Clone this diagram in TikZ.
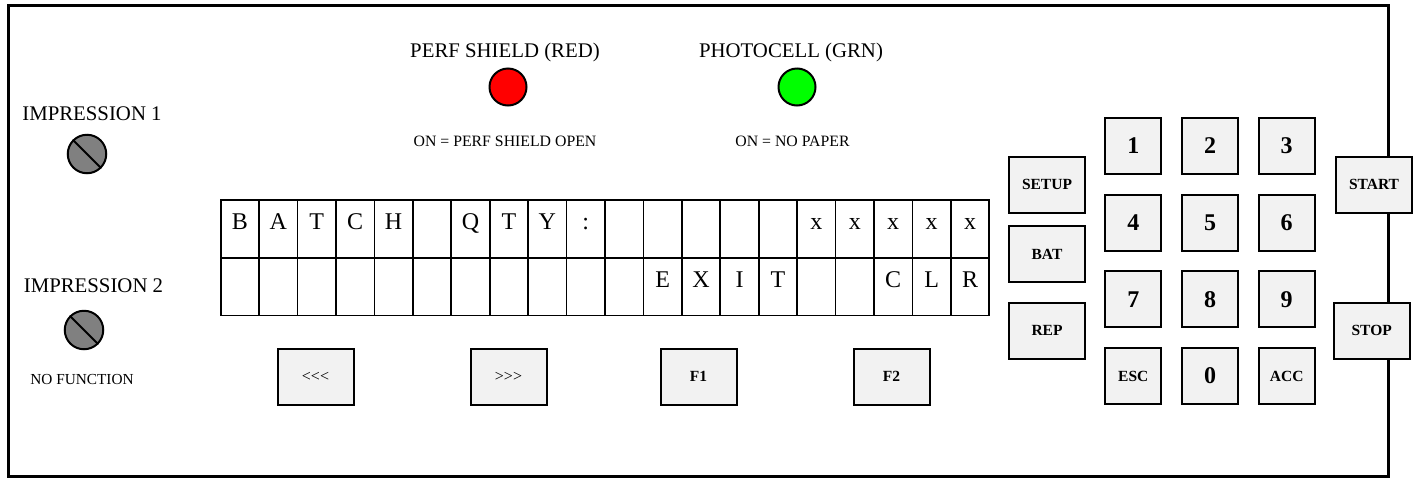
\documentclass[tikz,border=0pt]{standalone}
\usepackage{fontspec}
\setmainfont{Liberation Serif}
\usetikzlibrary{calc}
\definecolor{keyfill}{HTML}{F2F2F2}
\definecolor{knobgray}{HTML}{808080}
\definecolor{ledred}{HTML}{FF0000}
\definecolor{ledgreen}{HTML}{00FF00}
\begin{document}
\begin{tikzpicture}[x=1pt,y=-1pt,
  keybox/.style={draw=black, line width=2pt, fill=keyfill, minimum width=76pt, minimum height=56pt, inner sep=0pt, outer sep=0pt, font=\fontsize{15.5}{18}\selectfont\bfseries},
  numkey/.style={keybox, minimum width=56pt, minimum height=56pt},
  digit/.style={font=\fontsize{24}{28}\selectfont\bfseries},
  plainlbl/.style={font=\fontsize{16}{19}\selectfont},
  biglbl/.style={font=\fontsize{20.8}{24}\selectfont, anchor=base, inner sep=0pt},
  smalllbl/.style={font=\fontsize{15.8}{19}\selectfont, anchor=base, inner sep=0pt},
  lcdcell/.style={draw=black, line width=1.8pt, minimum width=38.43pt, minimum height=57.7pt, inner sep=0pt, outer sep=0pt},
  lcdtxt/.style={font=\fontsize{24}{28}\selectfont, anchor=base, inner sep=0pt},
  knob/.style={circle, draw=black, line width=2pt, fill=knobgray, minimum size=38.5pt, inner sep=0pt},
  led/.style={circle, draw=black, line width=2pt, minimum size=37pt, inner sep=0pt}
]
\useasboundingbox (0,0) rectangle (1418,480);
% outer frame
\draw[line width=3pt] (8.5,5) rectangle (1388,476);

% knobs
\node[biglbl] (imp1) at (92,120.7) {IMPRESSION 1};
\node[knob] (k1) at (87,154) {};
\draw[line width=2pt] (k1.north west) -- (k1.south east);
\node[biglbl] (imp2) at (93.5,292.7) {IMPRESSION 2};
\node[knob] (k2) at (84,330) {};
\draw[line width=2pt] (k2.north west) -- (k2.south east);
\node[font=\fontsize{15.3}{18}\selectfont, anchor=base, inner sep=0pt] (nofn) at (82,384) {NO FUNCTION};

% LEDs
\node[biglbl] (perf) at (505,57) {PERF SHIELD (RED)};
\node[led, fill=ledred] (redled) at (508,87) {};
\node[smalllbl] (perfon) at (505,146) {ON = PERF SHIELD OPEN};
\node[biglbl] (photo) at (791,57) {PHOTOCELL (GRN)};
\node[led, fill=ledgreen] (grnled) at (797,87) {};
\node[smalllbl] (photoon) at (792.5,146) {ON = NO PAPER};

% LCD grid
\foreach \c [count=\i] in {B,A,T,C,H,{},Q,T,Y,:,{},{},{},{},{},x,x,x,x,x}{
  \node[lcdcell] (ra\i) at ({220.7+(\i-0.5)*38.43},228.85) {};
  \node[lcdtxt] at ($(ra\i.north)+(0,29.6)$) {\c};
}
\foreach \c [count=\i] in {{},{},{},{},{},{},{},{},{},{},{},E,X,I,T,{},{},C,L,R}{
  \node[lcdcell] (rb\i) at ({220.7+(\i-0.5)*38.43},286.55) {};
  \node[lcdtxt] at ($(rb\i.north)+(0,30.1)$) {\c};
}

% soft keys under display
\node[keybox, font=\fontsize{16}{19}\selectfont] (left) at (315.5,376.5) {<{}<{}<};
\node[keybox, font=\fontsize{16}{19}\selectfont] (right) at (508.5,376.5) {>{}>{}>};
\node[keybox] (f1) at (698.5,376.5) {F1};
\node[keybox] (f2) at (891.5,376.5) {F2};

% function keys
\node[keybox] (setup) at (1047,184.5) {SETUP};
\node[keybox] (bat) at (1047,254) {BAT};
\node[keybox] (rep) at (1047,330.5) {REP};

% numeric keypad
\node[numkey, digit] (n1) at (1133.3,145.7) {1};
\node[numkey, digit] (n2) at (1210,145.7) {2};
\node[numkey, digit] (n3) at (1286.7,145.7) {3};
\node[numkey, digit] (n4) at (1133.3,222.7) {4};
\node[numkey, digit] (n5) at (1210,222.7) {5};
\node[numkey, digit] (n6) at (1286.7,222.7) {6};
\node[numkey, digit] (n7) at (1133.3,299.3) {7};
\node[numkey, digit] (n8) at (1210,299.3) {8};
\node[numkey, digit] (n9) at (1286.7,299.3) {9};
\node[numkey] (esc) at (1133.3,376) {ESC};
\node[numkey, digit] (n0) at (1210,376) {0};
\node[numkey] (acc) at (1286.7,376) {ACC};

% start / stop
\node[keybox] (start) at (1374,184.5) {START};
\node[keybox] (stop) at (1371.7,330.7) {STOP};
\end{tikzpicture}
\end{document}
